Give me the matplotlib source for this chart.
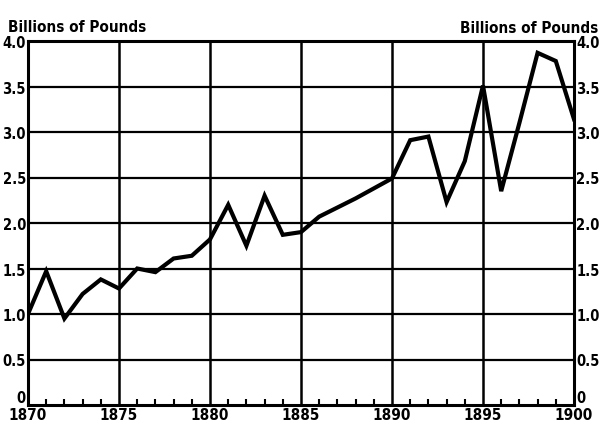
import matplotlib
matplotlib.use("Agg")
import matplotlib.pyplot as plt
from matplotlib.ticker import MultipleLocator

years = list(range(1870, 1901))
values = [1.00, 1.47, 0.95, 1.22, 1.38, 1.28, 1.50, 1.46, 1.61, 1.64,
          1.82, 2.20, 1.75, 2.30, 1.87, 1.90, 2.07, 2.17, 2.27, 2.38,
          2.49, 2.91, 2.95, 2.23, 2.68, 3.51, 2.35, 3.10, 3.87, 3.78,
          3.14]
x_ticks = [1870, 1875, 1880, 1885, 1890, 1895, 1900]
y_ticks = [0, 0.5, 1.0, 1.5, 2.0, 2.5, 3.0, 3.5, 4.0]
y_labels = ["0", "0.5", "1.0", "1.5", "2.0", "2.5", "3.0", "3.5", "4.0"]
unit_label = "Billions of Pounds"

plt.rcParams['font.family'] = ["DejaVu Sans"]
plt.rcParams['font.stretch'] = "condensed"

fig = plt.figure(figsize=(6.02, 4.27), dpi=100)
ax = fig.add_axes([28 / 602, 21 / 427, 546 / 602, 364 / 427])

for yv in y_ticks[1:-1]:
    ax.axhline(yv, color="black", lw=1.6, zorder=1)
for xv in x_ticks[1:-1]:
    ax.axvline(xv, color="black", lw=1.8, zorder=1)

ax.plot(years, values, color="black", lw=3.0, solid_joinstyle="miter", zorder=3)

ax.set_xlim(1870, 1900)
ax.set_ylim(0, 4.0)
ax.set_xticks(x_ticks)
ax.set_xticklabels([str(v) for v in x_ticks], fontsize=11, fontweight="bold")
ax.set_yticks(y_ticks)
ax.set_yticklabels(y_labels, fontsize=10.5, fontweight="bold")
ax.xaxis.set_minor_locator(MultipleLocator(1))
ax.tick_params(axis="both", which="major", length=0, pad=1.5)
ax.tick_params(axis="x", which="minor", direction="in", length=4, width=1.5)
ax.tick_params(axis="y", labelright=True, right=False)
# the "0" labels sit above the bottom edge
ax.yaxis.get_major_ticks()[0].label1.set_verticalalignment("bottom")
ax.yaxis.get_major_ticks()[0].label2.set_verticalalignment("bottom")
for sp in ax.spines.values():
    sp.set_linewidth(2.2)

fig.text(8 / 602, 1 - 32 / 427, unit_label, fontsize=11, fontweight="bold", ha="left")
fig.text(598 / 602, 1 - 33 / 427, unit_label, fontsize=11, fontweight="bold", ha="right")

fig.savefig("out.png", dpi=100)
